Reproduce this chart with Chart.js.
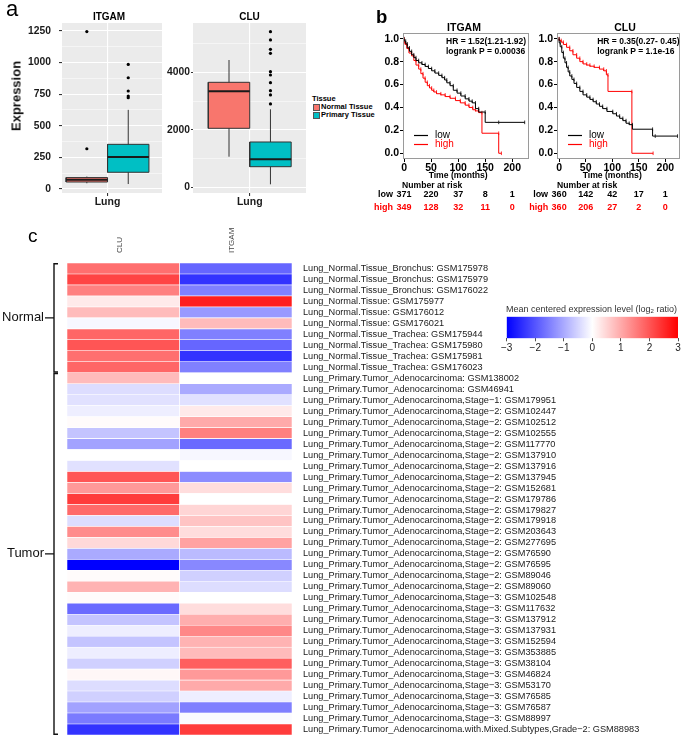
<!DOCTYPE html>
<html><head><meta charset="utf-8">
<script src="https://cdn.jsdelivr.net/npm/chart.js@4.4.1/dist/chart.umd.min.js"></script>
<style>
html,body{margin:0;padding:0;background:#fff;}
body{width:685px;height:736px;position:relative;overflow:hidden;font-family:"Liberation Sans",Arial,sans-serif;}
canvas{position:absolute;}
.t{position:absolute;white-space:nowrap;line-height:1;}
.key{position:absolute;width:5px;height:5px;border:0.8px solid #555;}
</style></head><body>
<script>
// ---------------- DATA ----------------
// Panel a: boxplot stats [lowerWhisker, q1, median, q3, upperWhisker]
const tissueGroups = ['Normal Tissue', 'Primary Tissue'];
const itgamNormalBox = [45, 55, 72, 90, 98];
const itgamPrimaryBox = [39, 132, 253, 353, 626];
const itgamNormalOut = [318, 1245];
const itgamPrimaryOut = [722, 735, 775, 880, 985];
const cluNormalBox = [1065, 2052, 3339, 3652, 4428];
const cluPrimaryBox = [104, 717, 974, 1576, 2713];
const cluNormalOut = [];
const cluPrimaryOut = [2899, 3212, 3362, 3641, 3907, 4023, 4661, 4800, 5125, 5414];
const itgamBoxTicks = [0, 250, 500, 750, 1000, 1250];
const cluBoxTicks = [0, 2000, 4000];

// Panel b: Kaplan-Meier curves (time in months, survival probability)
const itgamLowT = [0,3,6,10,14,18,22,27,33,39,45,51,57,64,70,75,79,85,91,98,105,113,120,126,132,138,150,175,223];
const itgamLowS = [1,0.98,0.955,0.92,0.89,0.86,0.835,0.81,0.79,0.775,0.758,0.74,0.72,0.70,0.68,0.66,0.64,0.615,0.59,0.55,0.525,0.50,0.475,0.455,0.44,0.39,0.36,0.27,0.27];
const itgamHighT = [0,2,5,9,14,18,22,27,31,35,39,43,47,51,55,60,68,76,85,95,104,113,120,127,132,138,144,175,180];
const itgamHighS = [1,0.965,0.95,0.915,0.875,0.85,0.81,0.77,0.735,0.695,0.656,0.62,0.59,0.57,0.55,0.535,0.52,0.51,0.495,0.48,0.46,0.44,0.42,0.40,0.38,0.37,0.355,0.175,0];
const cluLowT = [0,2,5,8,11,14,17,20,24,28,33,39,45,52,58,64,70,76,82,90,101,108,114,120,126,132,138,176,181,223];
const cluLowS = [1,0.965,0.93,0.88,0.83,0.79,0.75,0.71,0.675,0.645,0.61,0.575,0.54,0.51,0.49,0.47,0.45,0.43,0.41,0.39,0.365,0.345,0.325,0.305,0.285,0.262,0.25,0.21,0.15,0.15];
const cluHighT = [0,4,8,14,20,26,33,39,45,52,58,66,76,84,89,92,137,177];
const cluHighS = [1,0.985,0.97,0.95,0.925,0.895,0.86,0.83,0.80,0.78,0.77,0.76,0.75,0.735,0.72,0.685,0.54,0];
const kmXTicks = [0, 50, 100, 150, 200];
const kmYTicks = [0, 0.2, 0.4, 0.6, 0.8, 1.0];
const riskTimes = [0, 50, 100, 150, 200];
const itgamRiskLow = [371, 220, 37, 8, 1];
const itgamRiskHigh = [349, 128, 32, 11, 0];
const cluRiskLow = [360, 142, 42, 17, 1];
const cluRiskHigh = [360, 206, 27, 2, 0];
const itgamStats = ['HR = 1.52(1.21-1.92)', 'logrank P = 0.00036'];
const cluStats = ['HR = 0.35(0.27- 0.45)', 'logrank P = 1.1e-16'];

// Panel c: heatmap
const heatGenes = ['CLU', 'ITGAM'];
const heatSamples = [
 'Lung_Normal.Tissue_Bronchus: GSM175978','Lung_Normal.Tissue_Bronchus: GSM175979','Lung_Normal.Tissue_Bronchus: GSM176022',
 'Lung_Normal.Tissue: GSM175977','Lung_Normal.Tissue: GSM176012','Lung_Normal.Tissue: GSM176021',
 'Lung_Normal.Tissue_Trachea: GSM175944','Lung_Normal.Tissue_Trachea: GSM175980','Lung_Normal.Tissue_Trachea: GSM175981','Lung_Normal.Tissue_Trachea: GSM176023',
 'Lung_Primary.Tumor_Adenocarcinoma: GSM138002','Lung_Primary.Tumor_Adenocarcinoma: GSM46941',
 'Lung_Primary.Tumor_Adenocarcinoma,Stage\u22121: GSM179951',
 'Lung_Primary.Tumor_Adenocarcinoma,Stage\u22122: GSM102447','Lung_Primary.Tumor_Adenocarcinoma,Stage\u22122: GSM102512',
 'Lung_Primary.Tumor_Adenocarcinoma,Stage\u22122: GSM102555','Lung_Primary.Tumor_Adenocarcinoma,Stage\u22122: GSM117770',
 'Lung_Primary.Tumor_Adenocarcinoma,Stage\u22122: GSM137910','Lung_Primary.Tumor_Adenocarcinoma,Stage\u22122: GSM137916',
 'Lung_Primary.Tumor_Adenocarcinoma,Stage\u22122: GSM137945','Lung_Primary.Tumor_Adenocarcinoma,Stage\u22122: GSM152681',
 'Lung_Primary.Tumor_Adenocarcinoma,Stage\u22122: GSM179786','Lung_Primary.Tumor_Adenocarcinoma,Stage\u22122: GSM179827',
 'Lung_Primary.Tumor_Adenocarcinoma,Stage\u22122: GSM179918','Lung_Primary.Tumor_Adenocarcinoma,Stage\u22122: GSM203643',
 'Lung_Primary.Tumor_Adenocarcinoma,Stage\u22122: GSM277695','Lung_Primary.Tumor_Adenocarcinoma,Stage\u22122: GSM76590',
 'Lung_Primary.Tumor_Adenocarcinoma,Stage\u22122: GSM76595','Lung_Primary.Tumor_Adenocarcinoma,Stage\u22122: GSM89046',
 'Lung_Primary.Tumor_Adenocarcinoma,Stage\u22122: GSM89060',
 'Lung_Primary.Tumor_Adenocarcinoma,Stage\u22123: GSM102548','Lung_Primary.Tumor_Adenocarcinoma,Stage\u22123: GSM117632',
 'Lung_Primary.Tumor_Adenocarcinoma,Stage\u22123: GSM137912','Lung_Primary.Tumor_Adenocarcinoma,Stage\u22123: GSM137931',
 'Lung_Primary.Tumor_Adenocarcinoma,Stage\u22123: GSM152594','Lung_Primary.Tumor_Adenocarcinoma,Stage\u22123: GSM353885',
 'Lung_Primary.Tumor_Adenocarcinoma,Stage\u22123: GSM38104','Lung_Primary.Tumor_Adenocarcinoma,Stage\u22123: GSM46824',
 'Lung_Primary.Tumor_Adenocarcinoma,Stage\u22123: GSM53170','Lung_Primary.Tumor_Adenocarcinoma,Stage\u22123: GSM76585',
 'Lung_Primary.Tumor_Adenocarcinoma,Stage\u22123: GSM76587','Lung_Primary.Tumor_Adenocarcinoma,Stage\u22123: GSM88997',
 'Lung_Primary.Tumor_Adenocarcinoma.with.Mixed.Subtypes,Grade\u22122: GSM88983'
];
const cluValues = [1.7,2.2,1.5,0.25,0.8,-0.1,1.8,2.0,1.7,1.8,
 0.8,-0.4,-0.35,-0.2,0.05,-0.7,-1.1,0.0,-0.35,2.0,1.2,2.3,1.75,-0.4,1.35,0.45,-1.0,-3.0,0.05,0.9,
 0.05,-1.75,-0.7,-0.2,-0.7,-0.2,-0.55,0.1,-0.4,-0.55,-1.1,-1.55,-2.4];
const itgamValues = [-1.8,-2.4,-1.5,2.65,-1.2,0.8,-1.5,-1.8,-2.4,-1.5,
 0.0,-1.0,-0.35,0.25,1.0,1.5,-1.75,-0.1,0.0,-1.35,0.4,0.0,0.5,0.7,0.4,1.1,-0.8,-1.4,-0.55,-0.4,
 0.0,0.4,0.95,1.4,0.9,0.8,1.9,1.2,1.0,-0.2,-1.5,-0.05,2.3];
const heatGroups = ['Normal', 'Tumor'];
const heatGroupSizes = [10, 33];
const colorbarTicks = [-3, -2, -1, 0, 1, 2, 3];

// ---------------- SETUP ----------------
const FONT = '"Liberation Sans", Arial, sans-serif';
Chart.defaults.font.family = FONT;
Chart.defaults.animation = false;
Chart.defaults.responsive = false;
Chart.defaults.devicePixelRatio = 1;
Chart.defaults.plugins.legend.display = false;
Chart.defaults.plugins.tooltip.enabled = false;

function makeCanvas(left, top, w, h) {
  const c = document.createElement('canvas');
  c.width = w; c.height = h;
  c.style.left = left + 'px'; c.style.top = top + 'px';
  c.style.width = w + 'px'; c.style.height = h + 'px';
  document.body.appendChild(c);
  return c;
}
function addText(html, x, baseline, size, opts = {}) {
  const d = document.createElement('div');
  d.className = 't';
  d.innerHTML = html;
  d.style.fontSize = size + 'px';
  d.style.top = (baseline - 0.8465 * size) + 'px';
  d.style.left = x + 'px';
  if (opts.bold) d.style.fontWeight = 'bold';
  if (opts.color) d.style.color = opts.color;
  if (opts.center) d.style.transform = 'translateX(-50%)';
  document.body.appendChild(d);
  return d;
}

// ---------------- PANEL A: boxplots ----------------
const panelBg = {
  id: 'panelBg',
  beforeDraw(chart) {
    const {ctx, chartArea: a} = chart;
    ctx.save(); ctx.fillStyle = '#EBEBEB';
    ctx.fillRect(a.left, a.top, a.right - a.left, a.bottom - a.top);
    ctx.restore();
  }
};
const boxColors = ['#F8766D', '#00BFC4'];
function boxDatasets(stats, outliers, center, color) {
  const hw = 0.225;
  const [lo, q1, med, q3, hi] = stats;
  return [
    {data: [{x: center, y: lo}, {x: center, y: hi}], borderColor: '#333', borderWidth: 1, order: 3},
    {data: [{x: center - hw, y: q1}, {x: center + hw, y: q1}, {x: center + hw, y: q3}, {x: center - hw, y: q3}, {x: center - hw, y: q1}],
     borderColor: '#333', borderWidth: 1, backgroundColor: color, fill: 'shape', order: 2},
    {data: [{x: center - hw, y: med}, {x: center + hw, y: med}], borderColor: '#1a1a1a', borderWidth: 2, order: 1},
    {data: outliers.map(v => ({x: center, y: v})), showLine: false, pointRadius: 1.6, pointBackgroundColor: '#000', pointBorderWidth: 0, order: 0}
  ];
}
function boxChart(canvas, cfg) {
  const majors = cfg.ticks;
  const step = majors[1] - majors[0];
  const vals = [];
  majors.forEach(v => { vals.push(v); vals.push(v + step / 2); });
  const isMajor = v => majors.includes(v);
  return new Chart(canvas, {
    type: 'line',
    data: {datasets: [
      ...boxDatasets(cfg.normal, cfg.normalOut, -0.225, boxColors[0]),
      ...boxDatasets(cfg.primary, cfg.primaryOut, 0.225, boxColors[1])
    ]},
    options: {
      layout: {padding: {left: 0, right: cfg.padR, top: 23, bottom: 2}},
      elements: {point: {radius: 0}, line: {tension: 0}},
      scales: {
        x: {type: 'linear', min: cfg.xmin, max: cfg.xmax,
          afterBuildTicks: s => { s.ticks = [{value: 0}]; },
          ticks: {callback: () => 'Lung', font: {weight: 'bold', size: 10.5}, color: '#1a1a1a', padding: 0, autoSkip: false},
          grid: {color: '#fff', lineWidth: 1.1, tickColor: '#333', tickLength: 3},
          border: {display: false},
          afterFit: s => { s.height = 20; }},
        y: {type: 'linear', min: cfg.ymin, max: cfg.ymax,
          afterBuildTicks: s => { s.ticks = vals.filter(v => v <= cfg.ymax).map(v => ({value: v})); },
          ticks: {callback: v => (isMajor(v) ? String(v) : ''), font: {weight: 'bold', size: 10.3}, color: '#1a1a1a', padding: cfg.tickPad, autoSkip: false},
          grid: {color: '#fff', lineWidth: c => (c.tick && isMajor(c.tick.value) ? 1.1 : 0.5),
                 tickColor: c => (c.tick && isMajor(c.tick.value) ? '#333' : 'rgba(0,0,0,0)'), tickLength: cfg.tickLen},
          border: {display: false},
          afterFit: s => { s.width = cfg.yw; }}
      }
    },
    plugins: [panelBg]
  });
}
boxChart(makeCanvas(0, 0, 166, 215), {
  normal: itgamNormalBox, normalOut: itgamNormalOut, primary: itgamPrimaryBox, primaryOut: itgamPrimaryOut,
  ticks: itgamBoxTicks, ymin: -32, ymax: 1313, xmin: -0.495, xmax: 0.592, yw: 62, padR: 4, tickPad: 8, tickLen: 3
});
boxChart(makeCanvas(166, 0, 144, 215), {
  normal: cluNormalBox, normalOut: cluNormalOut, primary: cluPrimaryBox, primaryOut: cluPrimaryOut,
  ticks: cluBoxTicks, ymin: -198, ymax: 5715, xmin: -0.616, xmax: 0.611, yw: 27, padR: 4, tickPad: 1, tickLen: 2
});
addText('a', 6, 17, 22);
addText('ITGAM', 109, 20, 10, {bold: true, center: true});
addText('CLU', 249.5, 20, 10, {bold: true, center: true});
(() => {
  const d = document.createElement('div');
  d.className = 't';
  d.textContent = 'Expression';
  d.style.fontSize = '13px'; d.style.fontWeight = 'bold'; d.style.color = '#111';
  d.style.left = '16px'; d.style.top = '96px';
  d.style.transform = 'translate(-50%,-50%) rotate(-90deg)';
  document.body.appendChild(d);
})();
addText('Tissue', 312, 101.5, 7.5, {bold: true});
tissueGroups.forEach((g, i) => {
  const k = document.createElement('div');
  k.className = 'key';
  k.style.left = '312.5px'; k.style.top = (103.8 + i * 8.2) + 'px';
  k.style.background = boxColors[i];
  document.body.appendChild(k);
  addText(g, 321, 109.3 + i * 8.2, 7.5, {bold: true});
});

// ---------------- PANEL B: Kaplan-Meier ----------------
function kmExtras(stats, riskLow, riskHigh) {
  return {
    id: 'kmExtras',
    afterDraw(chart) {
      const {ctx, chartArea: a, scales: {x}} = chart;
      ctx.save();
      ctx.strokeStyle = '#9a9a9a'; ctx.lineWidth = 1;
      ctx.strokeRect(Math.round(a.left) + 0.5, Math.round(a.top) + 0.5, Math.round(a.right - a.left) - 1, Math.round(a.bottom - a.top) - 1);
      ctx.textBaseline = 'middle';
      ctx.fillStyle = '#000'; ctx.textAlign = 'left';
      ctx.font = 'bold 8.5px ' + FONT;
      ctx.fillText(stats[0], a.right - 83, a.top + 9);
      ctx.fillText(stats[1], a.right - 83, a.top + 18.5);
      [['low', '#000', a.top + 102.5], ['high', '#f00', a.top + 111.5]].forEach(([t, c, y]) => {
        ctx.strokeStyle = c; ctx.lineWidth = 1.2;
        ctx.beginPath(); ctx.moveTo(a.left + 11, y); ctx.lineTo(a.left + 25, y); ctx.stroke();
        ctx.fillStyle = c; ctx.font = '10px ' + FONT;
        ctx.fillText(t, a.left + 32, y);
      });
      const x0 = x.getPixelForValue(0);
      ctx.fillStyle = '#000'; ctx.font = 'bold 8.6px ' + FONT;
      ctx.textAlign = 'center';
      ctx.fillText('Time (months)', x.getPixelForValue(100), a.bottom + 16.5);
      ctx.textAlign = 'left';
      ctx.fillText('Number at risk', x0 - 2, a.bottom + 26.5);
      [['low', '#000', riskLow, a.bottom + 36], ['high', '#f00', riskHigh, a.bottom + 49]].forEach(([lab, c, arr, y]) => {
        ctx.fillStyle = c; ctx.font = 'bold 9px ' + FONT;
        ctx.textAlign = 'right'; ctx.fillText(lab, x0 - 11, y);
        ctx.textAlign = 'center';
        arr.forEach((n, i) => ctx.fillText(String(n), x.getPixelForValue(riskTimes[i]), y));
      });
      ctx.restore();
    }
  };
}
function kmChart(canvas, cfg) {
  const pts = (t, s) => t.map((v, i) => ({x: v, y: s[i]}));
  const line = (t, s, c) => ({data: pts(t, s), borderColor: c, borderWidth: 1, stepped: 'after',
    pointStyle: 'line', pointRotation: 90, pointRadius: 1.8, pointBorderColor: c, pointBorderWidth: 0.8});
  return new Chart(canvas, {
    type: 'line',
    data: {datasets: [line(cfg.lowT, cfg.lowS, '#000'), line(cfg.highT, cfg.highS, '#ff0000')]},
    options: {
      layout: {padding: {left: 0, right: cfg.padR, top: 33, bottom: 28}},
      scales: {
        x: {type: 'linear', min: cfg.xmin, max: cfg.xmax,
          afterBuildTicks: s => { s.ticks = kmXTicks.map(v => ({value: v})); },
          ticks: {font: {weight: 'bold', size: 10.5}, color: '#000', padding: 0, autoSkip: false, maxRotation: 0},
          grid: {drawOnChartArea: false, tickLength: 3, tickColor: '#000'},
          border: {display: false},
          afterFit: s => { s.height = 28; s.paddingLeft = 0; s.paddingRight = 0; }},
        y: {type: 'linear', min: -0.05, max: 1.05,
          afterBuildTicks: s => { s.ticks = kmYTicks.map(v => ({value: v})); },
          ticks: {callback: v => v.toFixed(1), font: {weight: 'bold', size: 10.5}, color: '#000', padding: 1, autoSkip: false},
          grid: {drawOnChartArea: false, tickLength: 3, tickColor: '#000'},
          border: {display: false},
          afterFit: s => { s.width = cfg.yw; s.paddingTop = 0; s.paddingBottom = 0; }}
      }
    },
    plugins: [kmExtras(cfg.stats, cfg.riskLow, cfg.riskHigh)]
  });
}
kmChart(makeCanvas(360, 0, 175, 215), {
  lowT: itgamLowT, lowS: itgamLowS, highT: itgamHighT, highS: itgamHighS,
  stats: itgamStats, riskLow: itgamRiskLow, riskHigh: itgamRiskHigh, xmin: -2, xmax: 231, yw: 43, padR: 6
});
kmChart(makeCanvas(525, 0, 160, 215), {
  lowT: cluLowT, lowS: cluLowS, highT: cluHighT, highS: cluHighS,
  stats: cluStats, riskLow: cluRiskLow, riskHigh: cluRiskHigh, xmin: -4, xmax: 228, yw: 32, padR: 3
});
addText('b', 376, 23.3, 18.5, {bold: true});
addText('ITGAM', 464, 30.5, 10.5, {bold: true, center: true});
addText('CLU', 625, 30.5, 10.5, {bold: true, center: true});

// ---------------- PANEL C: heatmap ----------------
function heatColor(v) {
  const t = Math.max(-1, Math.min(1, v / 3));
  if (t < 0) { const c = Math.round(255 * (1 + t)); return `rgb(${c},${c},255)`; }
  const c = Math.round(255 * (1 - t)); return `rgb(255,${c},${c})`;
}
const bracketPlugin = {
  id: 'bracket',
  afterDraw(chart) {
    const {ctx, chartArea: a, scales: {y}} = chart;
    const rowH = y.getPixelForValue(1) - y.getPixelForValue(0);
    const bx = a.left - 13;
    let start = 0;
    ctx.save();
    ctx.strokeStyle = '#111'; ctx.lineWidth = 1.4; ctx.fillStyle = '#111';
    ctx.font = '13px ' + FONT; ctx.textAlign = 'right'; ctx.textBaseline = 'middle';
    heatGroups.forEach((g, gi) => {
      const end = start + heatGroupSizes[gi] - 1;
      const top = y.getPixelForValue(start) - rowH / 2 + 0.7;
      const bot = y.getPixelForValue(end) + rowH / 2 - 0.7;
      ctx.beginPath();
      ctx.moveTo(bx + 4, top); ctx.lineTo(bx, top); ctx.lineTo(bx, bot); ctx.lineTo(bx + 4, bot);
      const mid = (top + bot) / 2;
      ctx.moveTo(bx, mid); ctx.lineTo(bx - 9, mid);
      ctx.stroke();
      ctx.fillText(g, bx - 10, mid);
      start = end + 1;
    });
    ctx.restore();
  }
};
const heatValues = [cluValues, itgamValues];
new Chart(makeCanvas(0, 220, 685, 516), {
  type: 'bar',
  data: {
    labels: heatSamples,
    datasets: heatGenes.map((g, gi) => ({
      label: g,
      data: heatValues[gi].map(() => [gi, gi + 1]),
      backgroundColor: heatValues[gi].map(heatColor),
      borderColor: '#fff', borderWidth: 0.6, borderSkipped: false,
      barPercentage: 1, categoryPercentage: 1, grouped: false
    }))
  },
  options: {
    indexAxis: 'y',
    layout: {padding: {left: 67, right: 0, top: 0, bottom: 1}},
    scales: {
      x: {type: 'linear', position: 'top', min: 0, max: 2,
        afterBuildTicks: s => { s.ticks = heatGenes.map((g, i) => ({value: i + 0.5})); },
        ticks: {callback: v => heatGenes[Math.floor(v)], minRotation: 90, maxRotation: 90, font: {size: 8}, color: '#444', padding: 10, autoSkip: false, labelOffset: 6},
        grid: {display: false, drawTicks: false}, border: {display: false},
        afterFit: s => { s.height = 43; s.paddingLeft = 0; s.paddingRight = 0; }},
      y: {type: 'category', position: 'right',
        ticks: {autoSkip: false, font: {size: 9.2}, color: '#1a1a1a', padding: 11},
        grid: {display: false, drawTicks: false}, border: {display: false},
        afterFit: s => { s.width = 393; s.paddingTop = 0; s.paddingBottom = 0; }}
    }
  },
  plugins: [bracketPlugin]
});
addText('c', 28, 241.7, 19);

// colour bar
new Chart(makeCanvas(495, 300, 190, 60), {
  type: 'bar',
  data: {labels: [''], datasets: [{
    data: [[colorbarTicks[0], colorbarTicks[colorbarTicks.length - 1]]],
    backgroundColor: c => {
      const a = c.chart.chartArea;
      if (!a) return '#fff';
      const g = c.chart.ctx.createLinearGradient(a.left, 0, a.right, 0);
      g.addColorStop(0, heatColor(-3)); g.addColorStop(0.5, heatColor(0)); g.addColorStop(1, heatColor(3));
      return g;
    },
    barPercentage: 1, categoryPercentage: 1, borderWidth: 0
  }]},
  options: {
    indexAxis: 'y',
    layout: {padding: {left: 11.7, right: 7, top: 16.7, bottom: 3.7}},
    scales: {
      x: {type: 'linear', min: -3, max: 3,
        afterBuildTicks: s => { s.ticks = colorbarTicks.map(v => ({value: v})); },
        ticks: {callback: v => (v < 0 ? '\u2212' + (-v) : String(v)), font: {size: 10}, color: '#222', padding: 1, autoSkip: false, maxRotation: 0},
        grid: {drawOnChartArea: false, tickLength: 3, tickColor: '#555'},
        border: {display: false},
        afterFit: s => { s.height = 18; s.paddingLeft = 0; s.paddingRight = 0; }},
      y: {display: false}
    }
  }
});
addText('Mean centered expression level (log<sub style="font-size:6px;vertical-align:-1px">2</sub> ratio)', 506, 313, 9, {color: '#333'});
</script>
</body></html>
